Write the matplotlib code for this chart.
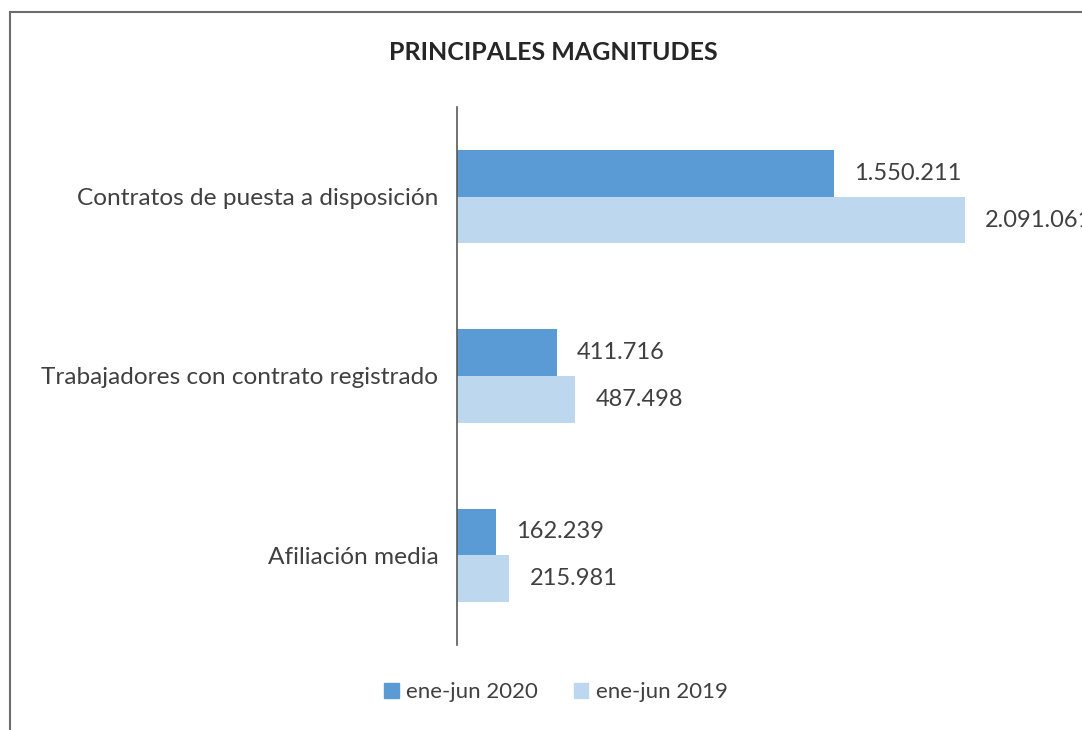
import matplotlib
matplotlib.use("Agg")
import matplotlib.pyplot as plt
from matplotlib.lines import Line2D
from matplotlib.patches import Patch

categories = ["Contratos de puesta a disposición",
              "Trabajadores con contrato registrado",
              "Afiliación media"]
vals_2020 = [1550211, 411716, 162239]
vals_2019 = [2091061, 487498, 215981]
series_names = ["ene-jun 2020", "ene-jun 2019"]

C2020 = "#5B9BD5"
C2019 = "#BDD7EE"
TXT = "#404040"

plt.rcParams['font.family'] = ['Lato', 'DejaVu Sans']

W, H = 1082, 730
fig = plt.figure(figsize=(W / 100, H / 100), dpi=100)

# axes: x from 457px to right edge, y from 107px to 645px
ax = fig.add_axes([457 / W, 1 - 645 / H, 1 - 457 / W, (645 - 107) / H])

px_per_unit = (965 - 457) / vals_2019[0]
xmax = (W - 457) / px_per_unit

bar_h = 47 / 180
ypos = list(range(len(categories)))
ax.barh([y - bar_h / 2 for y in ypos], vals_2020, height=bar_h, color=C2020)
ax.barh([y + bar_h / 2 for y in ypos], vals_2019, height=bar_h, color=C2019)

off = 20 / px_per_unit
for y, v in zip(ypos, vals_2020):
    ax.text(v + off, y - bar_h / 2, f"{v:,}".replace(",", "."), va="center",
            ha="left", fontsize=17, color=TXT, clip_on=False)
for y, v in zip(ypos, vals_2019):
    ax.text(v + off, y + bar_h / 2, f"{v:,}".replace(",", "."), va="center",
            ha="left", fontsize=17, color=TXT, clip_on=False)

ax.set_xlim(0, xmax)
ax.set_ylim(len(categories) - 0.5, -0.5)
ax.set_yticks(ypos)
ax.set_yticklabels(categories, fontsize=17.6, color=TXT)
ax.tick_params(axis="y", length=0, pad=13.5)
ax.set_xticks([])
for s in ["top", "right", "bottom"]:
    ax.spines[s].set_visible(False)
ax.spines["left"].set_color("#595959")
ax.spines["left"].set_linewidth(1.2)

fig.text(553 / W, 1 - 52 / H, "PRINCIPALES MAGNITUDES", ha="center", va="center",
         fontsize=18, fontweight="bold", color="#262626")

handles = [Patch(color=C2020), Patch(color=C2019)]
fig.legend(handles, series_names, loc="center", bbox_to_anchor=(556 / W, 1 - 692 / H),
           ncol=2, frameon=False, fontsize=16, labelcolor=TXT,
           handlelength=0.65, handleheight=0.65, handletextpad=0.35, columnspacing=1.6)

# chart-area border (left and top only visible)
fig.add_artist(Line2D([9.5 / W, 9.5 / W], [0, 1 - 12 / H], transform=fig.transFigure,
                      color="#6d6d6d", lw=1.5))
fig.add_artist(Line2D([9.5 / W, 1], [1 - 12 / H, 1 - 12 / H], transform=fig.transFigure,
                      color="#6d6d6d", lw=1.5))

fig.savefig("out.png", dpi=100)
